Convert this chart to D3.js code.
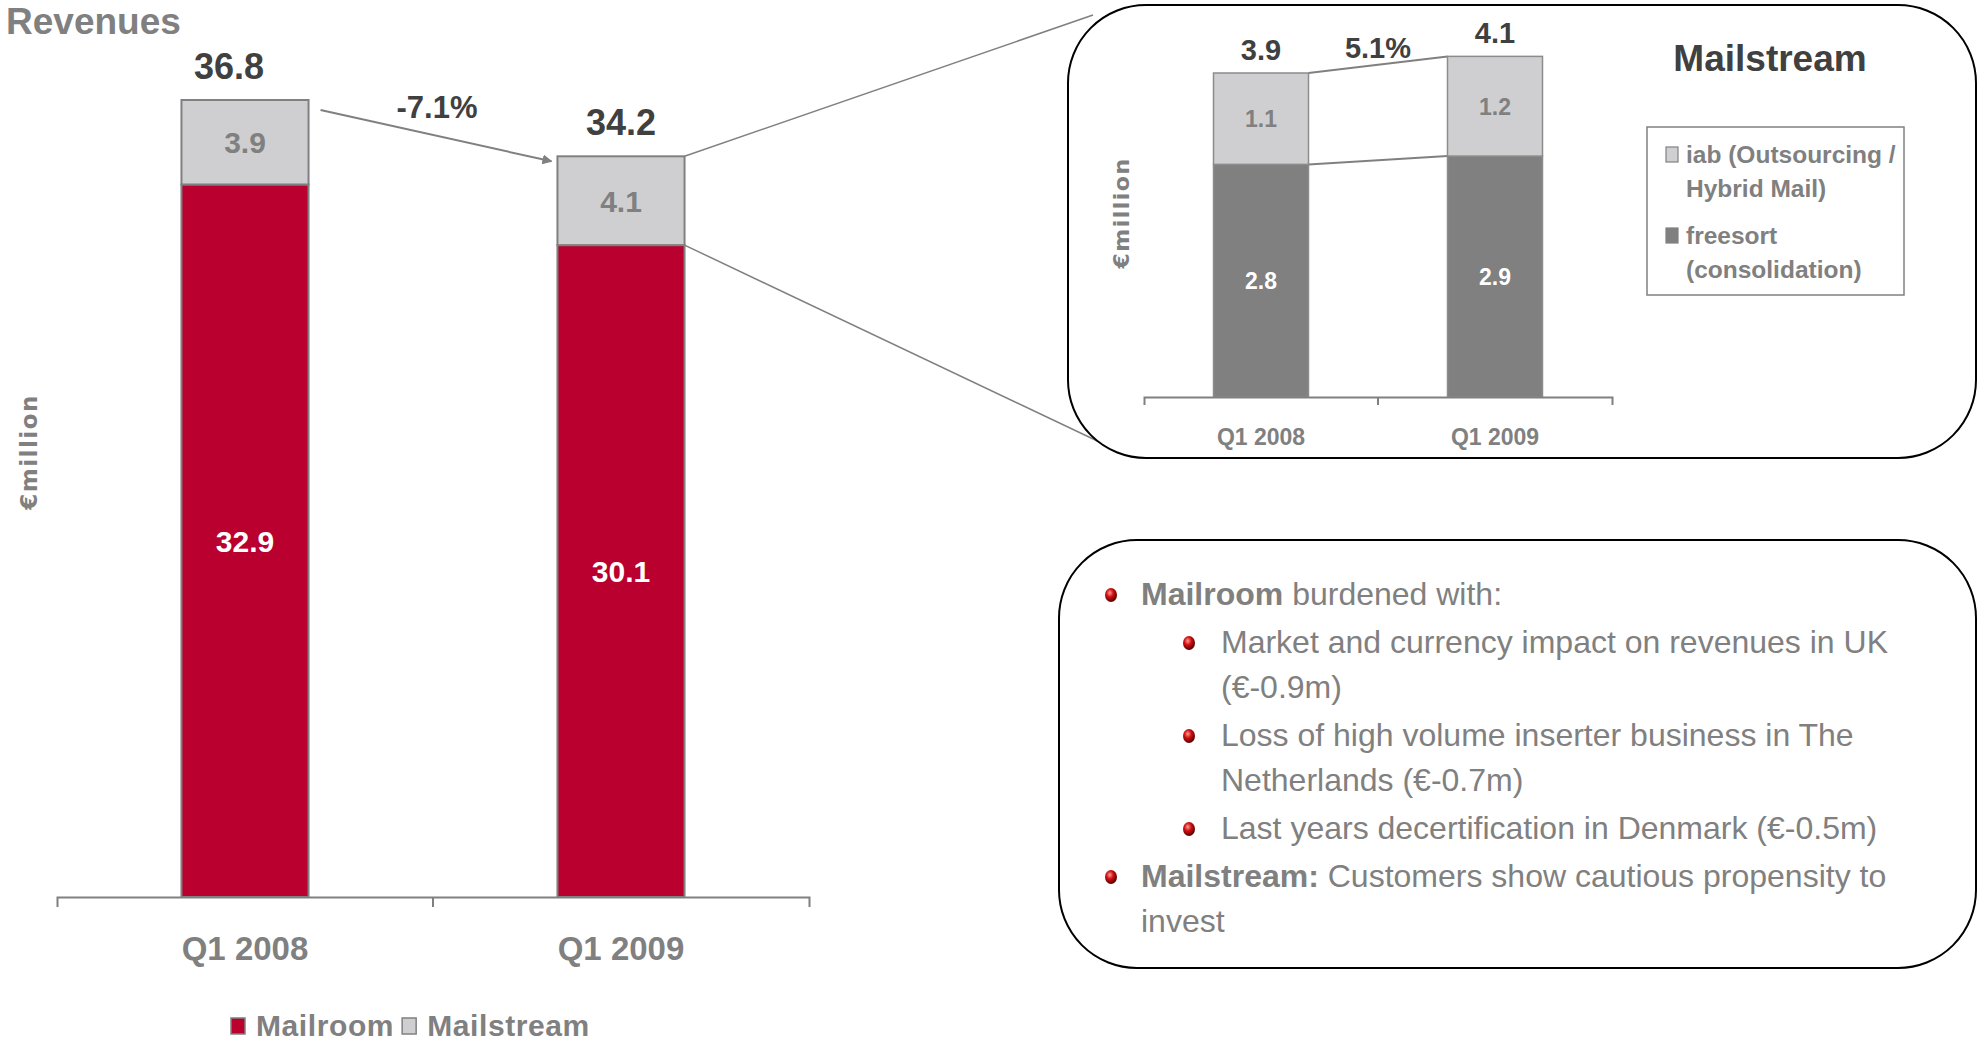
<!DOCTYPE html>
<html>
<head>
<meta charset="utf-8">
<script src="https://cdn.jsdelivr.net/npm/d3@7"></script>
<style>
  body { margin: 0; background: #fff; }
  svg { display: block; }
</style>
</head>
<body>
<script>
"use strict";

// main chart data
const categories = ['Q1 2008', 'Q1 2009']
const mailroom = [32.9, 30.1]
const mailstream = [3.9, 4.1]
const totals = [36.8, 34.2]
const mainChange = '-7.1%'

// inset (Mailstream) data
const insetCategories = ['Q1 2008', 'Q1 2009']
const freesort = [2.8, 2.9]
const iab = [1.1, 1.2]
const insetTotals = [3.9, 4.1]
const insetChange = '5.1%'

const legendMain = ['Mailroom', 'Mailstream']
const legendInset = [
  ['iab (Outsourcing /', 'Hybrid Mail)'],
  ['freesort', '(consolidation)'],
]

const notes = [
  { level: 0, lead: 'Mailroom', lines: [' burdened with:'] },
  { level: 1, lead: '', lines: ['Market and currency impact on revenues in UK', '(€-0.9m)'] },
  { level: 1, lead: '', lines: ['Loss of high volume inserter business in The', 'Netherlands (€-0.7m)'] },
  { level: 1, lead: '', lines: ['Last years decertification in Denmark (€-0.5m)'] },
  { level: 0, lead: 'Mailstream:', lines: [' Customers show cautious propensity to', 'invest'] },
]

const SANS = '"Liberation Sans", Arial, sans-serif'
const GREY = '#808080'
const DARK = '#404040'
const RED = '#b9002f'
const LIGHT = '#cfcfd1'

const svg = d3.select('body').append('svg')
  .attr('width', 1982)
  .attr('height', 1041)
  .style('font-family', SANS)

const defs = svg.append('defs')

defs.append('marker')
  .attr('id', 'arrow')
  .attr('viewBox', '0 0 10 10')
  .attr('refX', 9).attr('refY', 5)
  .attr('markerWidth', 10).attr('markerHeight', 10)
  .attr('markerUnits', 'userSpaceOnUse')
  .attr('orient', 'auto')
  .append('path')
    .attr('d', 'M0,0 L10,5 L0,10 z')
    .attr('fill', GREY)

const grad = defs.append('radialGradient')
  .attr('id', 'ball')
  .attr('cx', '40%').attr('cy', '35%').attr('r', '65%')
grad.append('stop').attr('offset', '0%').attr('stop-color', '#ff9a9a')
grad.append('stop').attr('offset', '45%').attr('stop-color', '#d01010')
grad.append('stop').attr('offset', '100%').attr('stop-color', '#5a0000')

// ---------- main chart ----------
const m = { left: 57, right: 809, base: 897, top: 100 }

const x = d3.scaleBand()
  .domain(categories)
  .range([m.left, m.right])
  .paddingInner(0.662)
  .paddingOuter(0.331)

const y = d3.scaleLinear()
  .domain([0, d3.max(totals)])
  .range([m.base, m.top])

const rows = categories.map((c, i) => ({ cat: c, mailroom: mailroom[i], mailstream: mailstream[i] }))
const series = d3.stack().keys(['mailroom', 'mailstream'])(rows)
const mainColor = { mailroom: RED, mailstream: LIGHT }
const mainText = { mailroom: '#fff', mailstream: GREY }

svg.append('text')
  .attr('x', 6).attr('y', 34)
  .attr('font-size', 37).attr('font-weight', 'bold')
  .attr('fill', GREY)
  .text('Revenues')

svg.append('text')
  .attr('transform', 'translate(37,452) rotate(-90)')
  .attr('text-anchor', 'middle')
  .attr('font-family', '"DejaVu Sans", sans-serif')
  .attr('font-size', 23).attr('font-weight', 'bold')
  .attr('letter-spacing', 1.5)
  .attr('fill', GREY)
  .text('€million')

const layers = svg.append('g').selectAll('g')
  .data(series)
  .join('g')
    .attr('fill', s => mainColor[s.key])

layers.selectAll('rect')
  .data(s => s)
  .join('rect')
    .attr('x', d => x(d.data.cat))
    .attr('y', d => y(d[1]))
    .attr('width', x.bandwidth())
    .attr('height', d => y(d[0]) - y(d[1]))
    .attr('stroke', GREY)
    .attr('stroke-width', 2)

layers.selectAll('text')
  .data(s => s.map(d => Object.assign({ key: s.key }, d)))
  .join('text')
    .attr('x', d => x(d.data.cat) + x.bandwidth() / 2)
    .attr('y', d => y((d[0] + d[1]) / 2))
    .attr('dy', '0.36em')
    .attr('text-anchor', 'middle')
    .attr('font-size', 30).attr('font-weight', 'bold')
    .attr('fill', d => mainText[d.key])
    .text(d => d3.format('.1f')(d[1] - d[0]))

// the first total sits a little left of its bar in the original slide
const totalShift = [-16, 0]
svg.append('g').selectAll('text')
  .data(totals)
  .join('text')
    .attr('x', (d, i) => x(categories[i]) + x.bandwidth() / 2 + totalShift[i])
    .attr('y', d => y(d) - 21)
    .attr('text-anchor', 'middle')
    .attr('font-size', 36).attr('font-weight', 'bold')
    .attr('fill', DARK)
    .text(d => d3.format('.1f')(d))

// change arrow
const x0 = x(categories[0]) + x.bandwidth() + 12
const x1 = x(categories[1]) - 6
svg.append('line')
  .attr('x1', x0).attr('y1', y(totals[0]) + 10)
  .attr('x2', x1).attr('y2', y(totals[1]) + 5)
  .attr('stroke', GREY).attr('stroke-width', 2)
  .attr('marker-end', 'url(#arrow)')

svg.append('text')
  .attr('x', (x0 + x1) / 2 + 1).attr('y', 118)
  .attr('text-anchor', 'middle')
  .attr('font-size', 31).attr('font-weight', 'bold')
  .attr('fill', DARK)
  .text(mainChange)

const axis = svg.append('g')
  .attr('transform', `translate(0,${m.base})`)
  .call(d3.axisBottom(x).tickSize(0).tickSizeOuter(10).tickPadding(40))
axis.select('.domain').attr('stroke', GREY).attr('stroke-width', 2)
axis.selectAll('text')
  .attr('font-family', SANS)
  .attr('font-size', 33).attr('font-weight', 'bold')
  .attr('fill', GREY)
axis.append('line')
  .attr('x1', x(categories[1]) - x.step() * x.paddingInner() / 2)
  .attr('x2', x(categories[1]) - x.step() * x.paddingInner() / 2)
  .attr('y1', 0).attr('y2', 10)
  .attr('stroke', GREY).attr('stroke-width', 2)

// bottom legend
const leg = svg.append('g').attr('transform', 'translate(231,1036)')
let lx = 0
legendMain.forEach((name, i) => {
  leg.append('rect')
    .attr('x', lx).attr('y', -18)
    .attr('width', 14).attr('height', 16)
    .attr('fill', i === 0 ? RED : LIGHT)
    .attr('stroke', GREY).attr('stroke-width', 1.5)
  const t = leg.append('text')
    .attr('x', lx + 25)
    .attr('font-size', 30).attr('font-weight', 'bold')
    .attr('letter-spacing', 0.6)
    .attr('fill', GREY)
    .text(name)
  lx += 25 + t.node().getComputedTextLength() + 8
})

// ---------- connector lines to inset ----------
const bx = x(categories[1]) + x.bandwidth()
svg.append('line')
  .attr('x1', bx).attr('y1', y(totals[1]))
  .attr('x2', 1093).attr('y2', 15)
  .attr('stroke', GREY).attr('stroke-width', 1.5)
svg.append('line')
  .attr('x1', bx).attr('y1', y(mailroom[1]))
  .attr('x2', 1110).attr('y2', 447)
  .attr('stroke', GREY).attr('stroke-width', 1.5)

// ---------- inset ----------
svg.append('rect')
  .attr('x', 1068).attr('y', 5)
  .attr('width', 908).attr('height', 453)
  .attr('rx', 78).attr('ry', 78)
  .attr('fill', '#fff')
  .attr('stroke', '#000').attr('stroke-width', 2)

const ins = { left: 1144, right: 1612, base: 397, top: 73 }

const ix = d3.scaleBand()
  .domain(insetCategories)
  .range([ins.left, ins.right])
  .paddingInner(0.594)
  .paddingOuter(0.297)

const iy = d3.scaleLinear()
  .domain([0, insetTotals[0]])
  .range([ins.base, ins.top])

const irows = insetCategories.map((c, i) => ({ cat: c, freesort: freesort[i], iab: iab[i] }))
const iseries = d3.stack().keys(['freesort', 'iab'])(irows)
const insetColor = { freesort: GREY, iab: LIGHT }
const insetText = { freesort: '#fff', iab: GREY }

// links between the two inset bars
const lxa = ix(insetCategories[0]) + ix.bandwidth()
const lxb = ix(insetCategories[1])
svg.append('g').selectAll('line')
  .data([insetTotals, freesort])
  .join('line')
    .attr('x1', lxa).attr('y1', d => iy(d[0]))
    .attr('x2', lxb).attr('y2', d => iy(d[1]))
    .attr('stroke', GREY).attr('stroke-width', 2)

const ilayers = svg.append('g').selectAll('g')
  .data(iseries)
  .join('g')
    .attr('fill', s => insetColor[s.key])

ilayers.selectAll('rect')
  .data(s => s)
  .join('rect')
    .attr('x', d => ix(d.data.cat))
    .attr('y', d => iy(d[1]))
    .attr('width', ix.bandwidth())
    .attr('height', d => iy(d[0]) - iy(d[1]))
    .attr('stroke', '#8c8c8c')
    .attr('stroke-width', 1.5)

ilayers.selectAll('text')
  .data(s => s.map(d => Object.assign({ key: s.key }, d)))
  .join('text')
    .attr('x', d => ix(d.data.cat) + ix.bandwidth() / 2)
    .attr('y', d => iy((d[0] + d[1]) / 2))
    .attr('dy', '0.36em')
    .attr('text-anchor', 'middle')
    .attr('font-size', 23).attr('font-weight', 'bold')
    .attr('fill', d => insetText[d.key])
    .text(d => d3.format('.1f')(d[1] - d[0]))

svg.append('g').selectAll('text')
  .data(insetTotals)
  .join('text')
    .attr('x', (d, i) => ix(insetCategories[i]) + ix.bandwidth() / 2)
    .attr('y', d => iy(d) - 13)
    .attr('text-anchor', 'middle')
    .attr('font-size', 29).attr('font-weight', 'bold')
    .attr('fill', DARK)
    .text(d => d3.format('.1f')(d))

svg.append('text')
  .attr('x', (ix(insetCategories[0]) + ix(insetCategories[1]) + ix.bandwidth()) / 2)
  .attr('y', 58)
  .attr('text-anchor', 'middle')
  .attr('font-size', 29).attr('font-weight', 'bold')
  .attr('fill', DARK)
  .text(insetChange)

const iaxis = svg.append('g')
  .attr('transform', `translate(0,${ins.base})`)
  .call(d3.axisBottom(ix).tickSize(0).tickSizeOuter(8).tickPadding(32))
iaxis.select('.domain').attr('stroke', GREY).attr('stroke-width', 2)
iaxis.selectAll('text')
  .attr('font-family', SANS)
  .attr('font-size', 23).attr('font-weight', 'bold')
  .attr('fill', GREY)
iaxis.append('line')
  .attr('x1', ix(insetCategories[1]) - ix.step() * ix.paddingInner() / 2)
  .attr('x2', ix(insetCategories[1]) - ix.step() * ix.paddingInner() / 2)
  .attr('y1', 0).attr('y2', 8)
  .attr('stroke', GREY).attr('stroke-width', 2)

svg.append('text')
  .attr('transform', 'translate(1129,213) rotate(-90)')
  .attr('text-anchor', 'middle')
  .attr('font-family', '"DejaVu Sans", sans-serif')
  .attr('font-size', 22).attr('font-weight', 'bold')
  .attr('letter-spacing', 1.5)
  .attr('fill', GREY)
  .text('€million')

svg.append('text')
  .attr('x', 1770).attr('y', 71)
  .attr('text-anchor', 'middle')
  .attr('font-size', 37).attr('font-weight', 'bold')
  .attr('fill', DARK)
  .text('Mailstream')

svg.append('rect')
  .attr('x', 1647).attr('y', 127)
  .attr('width', 257).attr('height', 168)
  .attr('fill', '#fff')
  .attr('stroke', GREY).attr('stroke-width', 1.5)

const ileg = svg.append('g').attr('transform', 'translate(1666,0)')
legendInset.forEach((lines, i) => {
  const by = 163 + i * 81
  ileg.append('rect')
    .attr('x', 0).attr('y', by - 16)
    .attr('width', 12).attr('height', 15)
    .attr('fill', i === 0 ? LIGHT : GREY)
    .attr('stroke', GREY).attr('stroke-width', 1.2)
  lines.forEach((ln, j) => {
    ileg.append('text')
      .attr('x', 20).attr('y', by + j * 34)
      .attr('font-size', 24.5).attr('font-weight', 'bold')
      .attr('fill', GREY)
      .text(ln)
  })
})

// ---------- notes box ----------
svg.append('rect')
  .attr('x', 1059).attr('y', 540)
  .attr('width', 917).attr('height', 428)
  .attr('rx', 78).attr('ry', 78)
  .attr('fill', '#fff')
  .attr('stroke', '#000').attr('stroke-width', 2)

const bulletX = [1111, 1189]
const textX = [1141, 1221]
let base = 605
notes.forEach((n, k) => {
  if (k > 0) base += 48
  svg.append('ellipse')
    .attr('cx', bulletX[n.level]).attr('cy', base - 10)
    .attr('rx', 6).attr('ry', 7)
    .attr('fill', 'url(#ball)')
  n.lines.forEach((ln, j) => {
    if (j > 0) base += 45
    const t = svg.append('text')
      .attr('x', textX[n.level])
      .attr('y', base)
      .attr('font-size', 32)
      .attr('fill', GREY)
    if (j === 0 && n.lead) {
      t.append('tspan').attr('font-weight', 'bold').text(n.lead)
    }
    t.append('tspan').text(ln)
  })
})
</script>
</body>
</html>
